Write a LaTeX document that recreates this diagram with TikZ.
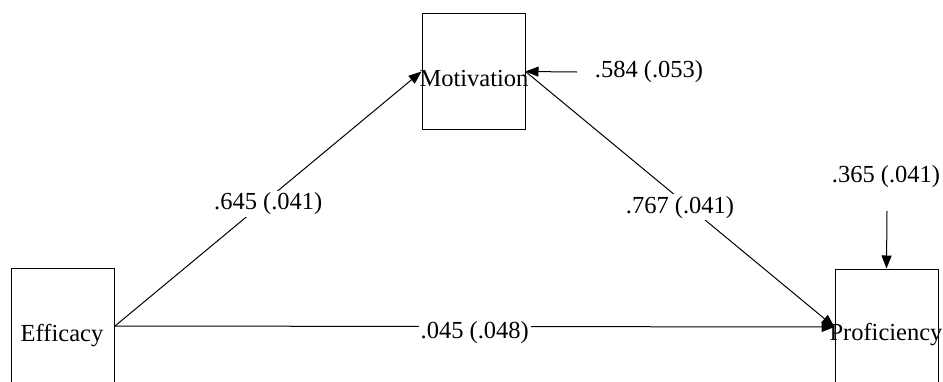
\documentclass[tikz,border=0pt]{standalone}
\usepackage{fontspec}
\setmainfont{Liberation Serif}
\usetikzlibrary{arrows.meta}
\begin{document}
\begin{tikzpicture}[x=1pt,y=-1pt,
  varbox/.style={draw, line width=1pt, minimum width=103pt, minimum height=116pt, inner sep=0pt},
  txt/.style={font=\fontsize{24.5pt}{26pt}\selectfont, inner sep=0pt, anchor=base},
  lbl/.style={font=\fontsize{24.5pt}{26pt}\selectfont, inner sep=2pt, fill=white},
  path/.style={draw, line width=1pt, -{Triangle[length=13pt, width=10pt]}}]
\useasboundingbox (0,0) rectangle (943,381);
\fill[white] (0,0) rectangle (943,381);
\node[varbox] (mot) at (473.5,71.5) {};
\node[varbox] (eff) at (63,326) {};
\node[varbox] (prof) at (886.5,327) {};
\node[txt] (motT) at (474,86) {Motivation};
\node[txt] (effT) at (62,341) {Efficacy};
\node[txt] (profT) at (886,340) {Proficiency};
\coordinate (e1) at (577,72);
\coordinate (e2) at (887,211);
\draw[path] (eff.east) -- node[lbl, pos=0.5, yshift=-5pt] {.645 (.041)} (mot.west);
\draw[path] (eff.east) -- node[lbl, pos=0.5, yshift=-6pt] {.045 (.048)} (prof.west);
\draw[path] (mot.east) -- node[lbl, pos=0.5, yshift=-8pt] {.767 (.041)} (prof.west);
\draw[path] (e1) -- (mot.east);
\draw[path] (e2) -- (prof.north);
\node[txt] (l1) at (649,77) {.584 (.053)};
\node[txt] (l2) at (886,182) {.365 (.041)};
\end{tikzpicture}
\end{document}
